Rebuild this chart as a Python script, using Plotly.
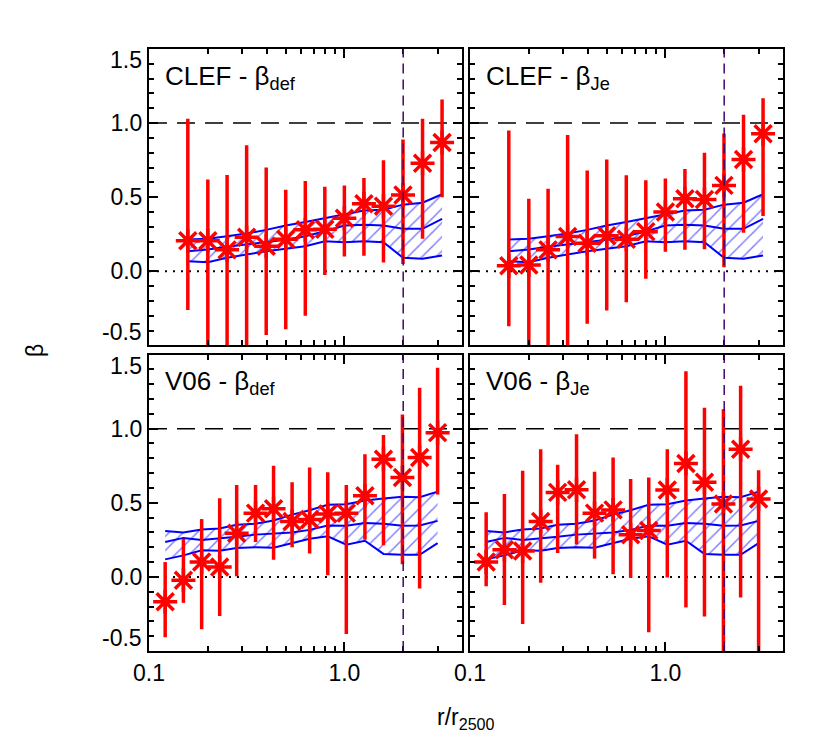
import plotly.graph_objects as go
from plotly.subplots import make_subplots

# ==========================
# DATA
# ==========================
x_clef = [0.158, 0.200, 0.251, 0.316, 0.398, 0.501, 0.631, 0.794, 1.000, 1.259, 1.585, 1.995, 2.512, 3.162]

clef_def = [0.206, 0.206, 0.145, 0.230, 0.170, 0.217, 0.280, 0.284, 0.358, 0.456, 0.440, 0.515, 0.730, 0.870]
clef_def_hi = [1.03, 0.62, 0.65, 0.85, 0.70, 0.55, 0.61, 0.57, 0.58, 0.63, 0.75, 0.89, 1.03, 1.16]
clef_def_lo = [-0.26, -0.80, -0.80, -0.80, -0.43, -0.39, -0.30, -0.025, 0.10, 0.105, 0.06, 0.05, 0.22, 0.50]

clef_je = [0.038, 0.043, 0.145, 0.235, 0.190, 0.240, 0.217, 0.268, 0.400, 0.490, 0.485, 0.580, 0.754, 0.928]
clef_je_hi = [0.95, 0.49, 0.557, 0.92, 0.68, 0.754, 0.649, 0.615, 0.626, 0.69, 0.80, 0.93, 1.056, 1.168]
clef_je_lo = [-0.37, -0.80, -0.80, -0.80, -0.353, -0.264, -0.208, -0.05, 0.132, 0.145, 0.15, 0.027, 0.26, 0.374]

clef_band_hi = [0.215, 0.220, 0.237, 0.255, 0.280, 0.310, 0.333, 0.357, 0.386, 0.410, 0.416, 0.450, 0.463, 0.520]
clef_band_mid = [0.135, 0.148, 0.166, 0.181, 0.193, 0.213, 0.237, 0.270, 0.309, 0.315, 0.309, 0.287, 0.287, 0.354]
clef_band_lo = [0.068, 0.062, 0.092, 0.114, 0.136, 0.152, 0.170, 0.203, 0.197, 0.203, 0.197, 0.092, 0.085, 0.107]

x_v06 = [0.121, 0.150, 0.186, 0.230, 0.281, 0.351, 0.434, 0.540, 0.664, 0.822, 1.023, 1.274, 1.585, 1.982, 2.427, 3.000]

v06_def = [-0.168, -0.022, 0.100, 0.067, 0.295, 0.430, 0.459, 0.374, 0.387, 0.425, 0.430, 0.548, 0.794, 0.671, 0.805, 0.973]
v06_def_hi = [0.10, 0.257, 0.39, 0.53, 0.62, 0.62, 0.75, 0.638, 0.738, 0.705, 0.62, 0.828, 0.957, 1.096, 1.275, 1.41]
v06_def_lo = [-0.407, -0.175, -0.353, -0.264, 0.004, 0.235, 0.116, 0.20, 0.157, 0.011, -0.385, 0.25, 0.213, 0.085, -0.078, 0.555]

v06_je = [0.100, 0.183, 0.174, 0.374, 0.570, 0.588, 0.430, 0.452, 0.284, 0.313, 0.586, 0.765, 0.638, 0.492, 0.861, 0.526]
v06_je_hi = [0.436, 0.559, 0.716, 0.861, 0.756, 0.962, 0.709, 0.805, 0.66, 0.671, 0.861, 1.387, 1.141, 1.13, 1.29, 0.72]
v06_je_lo = [-0.063, -0.19, -0.318, -0.04, 0.161, 0.219, 0.123, 0.018, -0.007, -0.374, -0.004, -0.206, -0.268, -0.80, -0.139, -0.80]

v06_band_hi = [0.310, 0.300, 0.320, 0.327, 0.352, 0.358, 0.380, 0.420, 0.450, 0.487, 0.490, 0.515, 0.528, 0.540, 0.538, 0.575]
v06_band_mid = [0.235, 0.263, 0.248, 0.257, 0.270, 0.285, 0.290, 0.300, 0.317, 0.347, 0.345, 0.363, 0.358, 0.345, 0.347, 0.378]
v06_band_lo = [0.118, 0.145, 0.180, 0.177, 0.194, 0.200, 0.197, 0.226, 0.257, 0.274, 0.217, 0.244, 0.155, 0.150, 0.149, 0.228]

panel_titles = ["CLEF - β<sub>def</sub>", "CLEF - β<sub>Je</sub>",
                "V06 - β<sub>def</sub>", "V06 - β<sub>Je</sub>"]
r_cut = 2.0

FONT = "Liberation Sans, Arial, Helvetica, sans-serif"
RED = "#ff0000"
BLUE = "#0000ff"

panels = [
    (1, 1, x_clef, clef_def, clef_def_hi, clef_def_lo, clef_band_hi, clef_band_mid, clef_band_lo),
    (1, 2, x_clef, clef_je, clef_je_hi, clef_je_lo, clef_band_hi, clef_band_mid, clef_band_lo),
    (2, 1, x_v06, v06_def, v06_def_hi, v06_def_lo, v06_band_hi, v06_band_mid, v06_band_lo),
    (2, 2, x_v06, v06_je, v06_je_hi, v06_je_lo, v06_band_hi, v06_band_mid, v06_band_lo),
]

fig = make_subplots(rows=2, cols=2, horizontal_spacing=0.0126, vertical_spacing=0.015)

for row, col, xs, ys, hi, lo, b_hi, b_mid, b_lo in panels:
    # hatched model band
    fig.add_trace(go.Scatter(x=xs, y=b_lo, mode="lines", line=dict(color=BLUE, width=2),
                             showlegend=False, hoverinfo="skip"), row=row, col=col)
    fig.add_trace(go.Scatter(x=xs, y=b_hi, mode="lines", line=dict(color=BLUE, width=2),
                             fill="tonexty", fillcolor="rgba(0,0,0,0)",
                             fillpattern=dict(shape="/", fgcolor=BLUE, bgcolor="rgba(0,0,0,0)",
                                              size=10, solidity=0.15),
                             showlegend=False, hoverinfo="skip"), row=row, col=col)
    fig.add_trace(go.Scatter(x=xs, y=b_mid, mode="lines", line=dict(color=BLUE, width=2),
                             showlegend=False, hoverinfo="skip"), row=row, col=col)
    # measurements
    fig.add_trace(go.Scatter(
        x=xs, y=ys, mode="markers",
        marker=dict(symbol="asterisk-open", size=20, color=RED, line=dict(color=RED, width=3.5)),
        error_y=dict(type="data", symmetric=False,
                     array=[h - v for h, v in zip(hi, ys)],
                     arrayminus=[v - l for v, l in zip(ys, lo)],
                     color=RED, thickness=3.5, width=0),
        showlegend=False), row=row, col=col)

# reference lines
for i in range(1, 5):
    xr = "x" if i == 1 else f"x{i}"
    yr = "y" if i == 1 else f"y{i}"
    fig.add_shape(type="line", xref=f"{xr} domain", yref=yr, x0=0, x1=1, y0=1.0, y1=1.0,
                  line=dict(color="black", width=1.5, dash="18px,10px"), layer="below")
    fig.add_shape(type="line", xref=f"{xr} domain", yref=yr, x0=0, x1=1, y0=0.0, y1=0.0,
                  line=dict(color="black", width=2, dash="2px,6px"), layer="below")
    fig.add_shape(type="line", xref=xr, yref=f"{yr} domain", x0=r_cut, x1=r_cut, y0=0, y1=1,
                  line=dict(color="#42086b", width=1.5, dash="10px,6px"), layer="above")
    fig.add_annotation(text=panel_titles[i - 1], xref=f"{xr} domain", yref=f"{yr} domain",
                       x=0.045, y=0.905, xanchor="left", yanchor="middle", showarrow=False,
                       font=dict(family=FONT, size=26, color="black"))

# y tick labels at the ends, nudged inside the panel like the original
for yr in ["y", "y3"]:
    fig.add_annotation(text="1.5", xref="paper", yref=f"{yr} domain", x=0, y=1.0,
                       xanchor="right", yanchor="top", xshift=-5, yshift=4, showarrow=False,
                       font=dict(family=FONT, size=23, color="black"))
    fig.add_annotation(text="-0.5", xref="paper", yref=f"{yr} domain", x=0, y=0.0,
                       xanchor="right", yanchor="bottom", xshift=-5, yshift=-2, showarrow=False,
                       font=dict(family=FONT, size=23, color="black"))

axis_common = dict(showline=True, linecolor="black", linewidth=2, mirror="allticks",
                   showgrid=False, zeroline=False, ticks="inside", tickcolor="black",
                   tickwidth=1.5, tickfont=dict(family=FONT, size=23, color="black"))

fig.update_xaxes(type="log", range=[-1, 0.602], tickvals=[0.1, 1.0], ticktext=["0.1", "1.0"],
                 ticklen=9,
                 minor=dict(tickvals=[0.2, 0.3, 0.4, 0.5, 0.6, 0.7, 0.8, 0.9, 2, 3],
                            ticks="inside", ticklen=5, tickcolor="black", tickwidth=1.5),
                 **axis_common)
fig.update_xaxes(showticklabels=False, row=1)
fig.update_yaxes(range=[-0.5, 1.5], tickvals=[0.0, 0.5, 1.0], ticktext=["0.0", "0.5", "1.0"],
                 ticklen=9,
                 minor=dict(dtick=0.1, tick0=0, ticks="inside", ticklen=5,
                            tickcolor="black", tickwidth=1.5),
                 **axis_common)
fig.update_yaxes(showticklabels=False, col=2)

fig.add_annotation(text="r/r<sub>2500</sub>", xref="paper", yref="paper", x=0.5, y=-0.085,
                   xanchor="center", yanchor="top", showarrow=False,
                   font=dict(family=FONT, size=23, color="black"))
fig.add_annotation(text="β", xref="paper", yref="paper", x=-0.18, y=0.5, textangle=-90,
                   xanchor="center", yanchor="middle", showarrow=False,
                   font=dict(family=FONT, size=23, color="black"))

fig.update_layout(width=830, height=747, plot_bgcolor="white", paper_bgcolor="white",
                  margin=dict(l=141, r=55, t=41, b=104), showlegend=False,
                  font=dict(family=FONT, color="black"))

fig.write_html("out.html")
